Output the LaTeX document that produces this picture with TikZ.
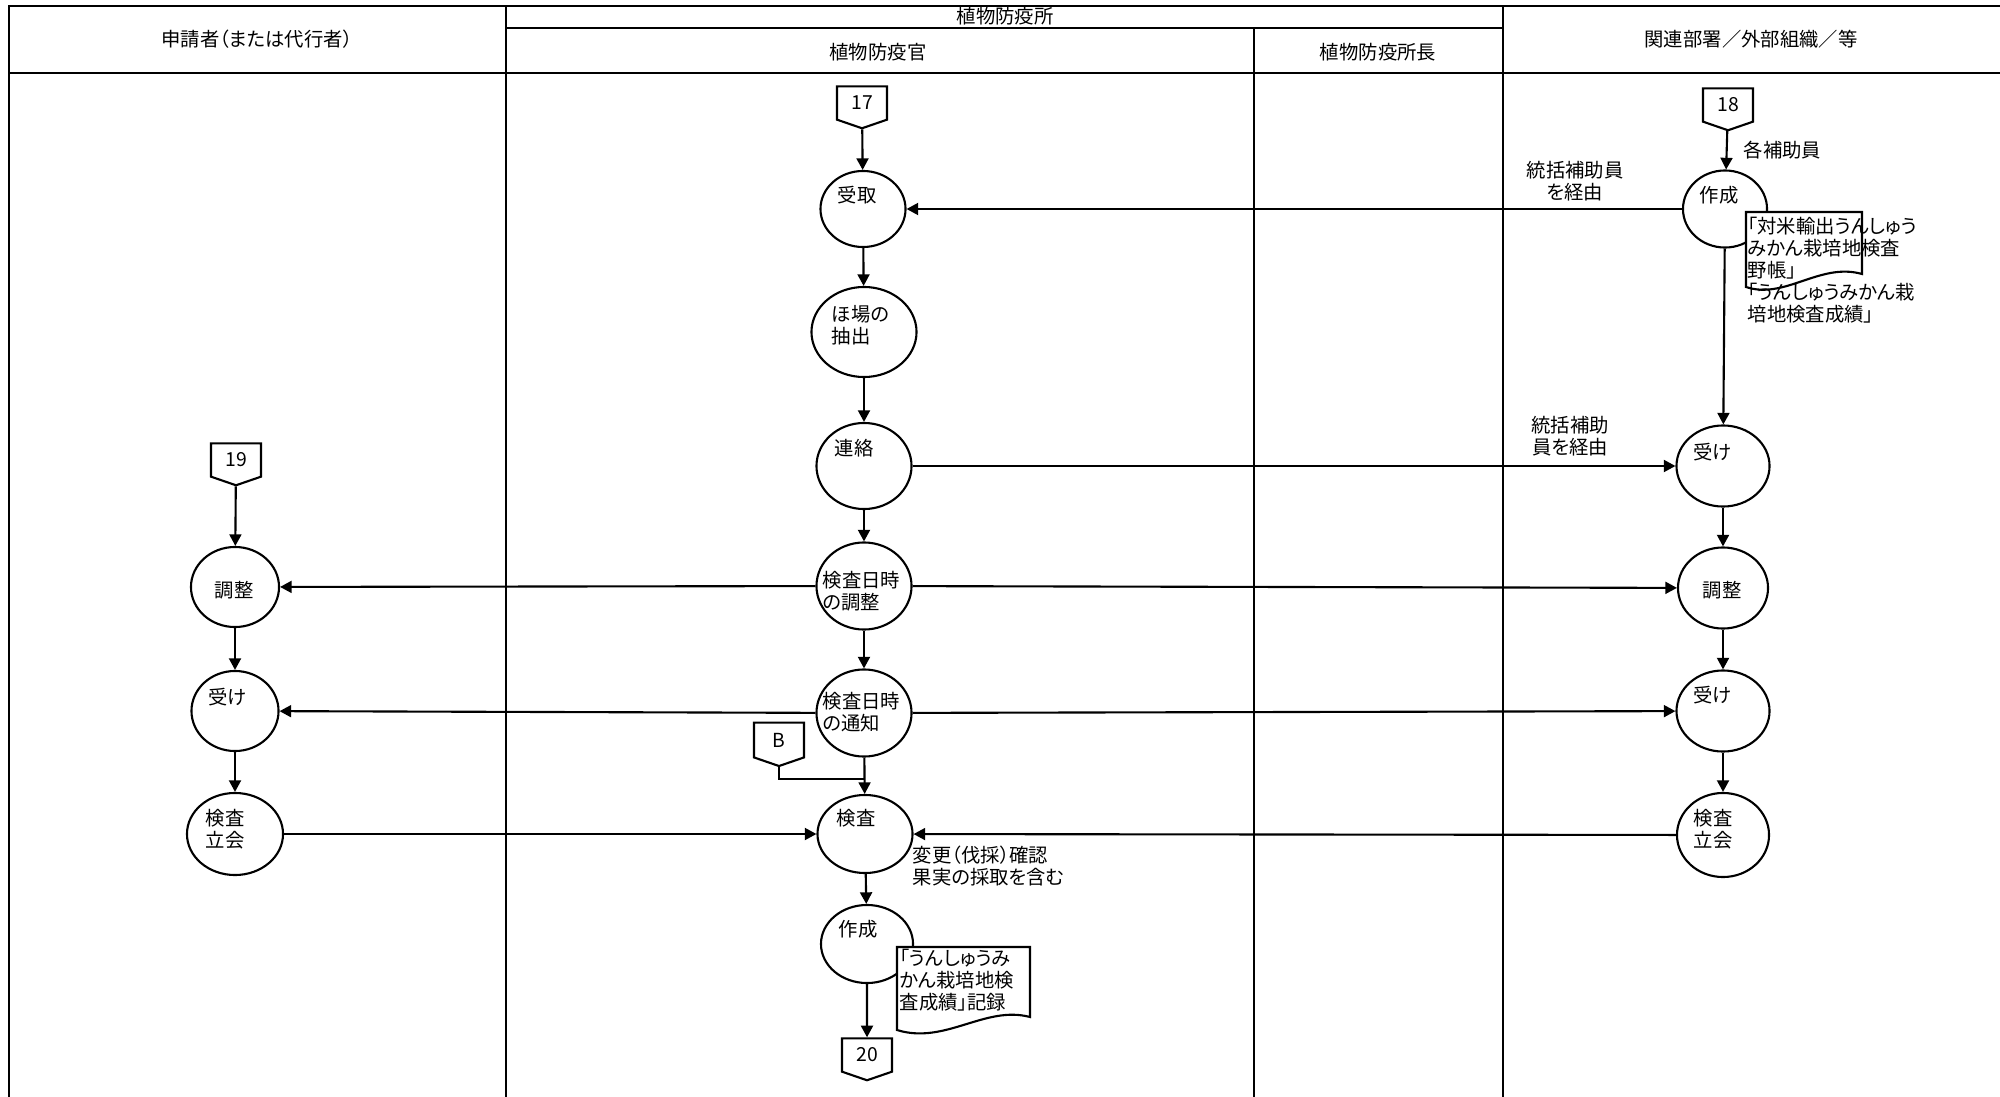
\documentclass[tikz,border=0pt]{standalone}
\usepackage{fontspec}
\setmainfont{Noto Sans CJK JP}[RawFeature={+palt}]
\usetikzlibrary{arrows.meta,shapes.geometric,shapes.symbols}

\begin{document}
\begin{tikzpicture}[
  x=0.01cm, y=-0.01cm,
  >={Triangle[length=3.3pt,width=3.4pt]},
  every node/.style={font=\fontsize{5.5}{6.3}\selectfont, inner sep=0pt},
  grid/.style={line width=0.65pt},
  proc/.style={draw, ellipse, line width=0.6pt, minimum width=0.92cm, minimum height=0.8cm},
  conn/.style={draw, signal, signal to=south, signal pointer angle=142, line width=0.6pt, minimum width=0.5cm, minimum height=0.37cm},
  flow/.style={->, line width=0.6pt},
  line/.style={line width=0.6pt},
  doc/.style={draw, fill=white, line width=0.6pt},
  lbl/.style={align=left, anchor=west}
]
  \useasboundingbox (0,0) rectangle (2000,1097);

  % swimlane frame, pixel coordinates of the sheet
  \draw[grid] (9,1097) -- (9,6) -- (2000,6);
  \draw[grid] (9,73) -- (2000,73);
  \draw[grid] (506,6) -- (506,1097);
  \draw[grid] (1503,6) -- (1503,1097);
  \draw[grid] (506,28) -- (1503,28);
  \draw[grid] (1254,28) -- (1254,1097);

  \node (h_app) at (257,39) {申請者（または代行者）};
  \node (h_pps) at (1005,16) {植物防疫所};
  \node (h_off) at (878,52) {植物防疫官};
  \node (h_dir) at (1378,52) {植物防疫所長};
  \node (h_ext) at (1751,39) {関連部署／外部組織／等};

  % off-page connectors
  \node[conn] (c17) at (862,103) {17};
  \node[conn] (c18) at (1728,105) {18};
  \node[conn] (c19) at (236,460) {19};
  \node[conn] (cB) at (779,740) {B};
  \node[conn] (c20) at (867,1055) {20};
  \coordinate (bjoin) at (865,779);

  % plant protection officer
  \node[proc, minimum width=0.85cm, minimum height=0.76cm] (uketori) at (863,209) {};
  \node[proc, minimum width=1.05cm, minimum height=0.9cm] (hojo) at (864,332) {};
  \node[proc, minimum width=0.95cm, minimum height=0.86cm] (renraku) at (864,466) {};
  \node[proc, minimum width=0.95cm, minimum height=0.87cm] (chosei_c) at (864,586) {};
  \node[proc, minimum width=0.95cm, minimum height=0.87cm] (tsuchi) at (864,713) {};
  \node[proc, minimum width=0.95cm, minimum height=0.78cm] (kensa) at (865,834) {};
  \node[proc, minimum width=0.92cm, minimum height=0.78cm] (sakusei_c) at (867,944) {};

  % applicant
  \node[proc, minimum width=0.88cm] (chosei_l) at (235,587) {};
  \node[proc, minimum width=0.87cm] (uke_l) at (235,711) {};
  \node[proc, minimum width=0.96cm, minimum height=0.82cm] (tachiai_l) at (235,834) {};

  % related sections
  \node[proc, minimum width=0.84cm, minimum height=0.77cm] (sakusei_r) at (1725,209) {};
  \node[proc, minimum width=0.93cm, minimum height=0.81cm] (uke_r1) at (1723,466) {};
  \node[proc, minimum width=0.9cm, minimum height=0.81cm] (chosei_r) at (1723,588) {};
  \node[proc, minimum width=0.93cm, minimum height=0.81cm] (uke_r2) at (1723,711) {};
  \node[proc, minimum width=0.92cm, minimum height=0.84cm] (tachiai_r) at (1723,835) {};

  \draw[flow] (c17) -- (uketori);
  \draw[flow] (uketori) -- (hojo);
  \draw[flow] (hojo) -- (renraku);
  \draw[flow] (renraku) -- (chosei_c);
  \draw[flow] (chosei_c) -- (tsuchi);
  \draw[flow] (tsuchi) -- (kensa);
  \draw[line] (cB.south) |- (bjoin);
  \draw[flow] (kensa) -- (sakusei_c);
  \draw[flow] (sakusei_c) -- (c20);

  \draw[flow] (c19) -- (chosei_l);
  \draw[flow] (chosei_l) -- (uke_l);
  \draw[flow] (uke_l) -- (tachiai_l);

  \draw[flow] (c18) -- (sakusei_r);
  \draw[flow] (sakusei_r) -- (uke_r1);
  \draw[flow] (uke_r1) -- (chosei_r);
  \draw[flow] (chosei_r) -- (uke_r2);
  \draw[flow] (uke_r2) -- (tachiai_r);

  \draw[flow] (sakusei_r) -- (uketori);
  \draw[flow] (renraku) -- (uke_r1);
  \draw[flow] (chosei_c) -- (chosei_l);
  \draw[flow] (chosei_c) -- (chosei_r);
  \draw[flow] (tsuchi) -- (uke_l);
  \draw[flow] (tsuchi) -- (uke_r2);
  \draw[flow] (tachiai_l) -- (kensa);
  \draw[flow] (tachiai_r) -- (kensa);

  % documents
  \draw[doc] (1746,212) -- (1746,287) .. controls (1785,300) and (1820,262) .. (1862,274) -- (1862,212) -- cycle;
  \draw[doc] (897,947) -- (897,1030) .. controls (945,1045) and (985,1005) .. (1030,1017) -- (1030,947) -- cycle;
  \node[lbl] (t_doc_r) at (1747,270) {「対米輸出うんしゅう\\みかん栽培地検査\\野帳」\\「うんしゅうみかん栽\\培地検査成績」};
  \node[lbl] (t_doc_c) at (899,980) {「うんしゅうみ\\かん栽培地検\\査成績」記録};

  % texts
  \node[lbl] (t_uketori) at (837,195) {受取};
  \node[lbl] (t_hojo) at (831,325) {ほ場の\\抽出};
  \node[lbl] (t_renraku) at (834,448) {連絡};
  \node[lbl] (t_chosei_c) at (822,591) {検査日時\\の調整};
  \node[lbl] (t_tsuchi) at (822,712) {検査日時\\の通知};
  \node[lbl] (t_kensa) at (836,818) {検査};
  \node[lbl] (t_sakusei_c) at (838,929) {作成};
  \node (t_chosei_l) at (234,590) {調整};
  \node[lbl] (t_uke_l) at (208,697) {受け};
  \node[lbl] (t_tachiai_l) at (205,829) {検査\\立会};
  \node[lbl] (t_sakusei_r) at (1699,195) {作成};
  \node[lbl] (t_uke_r1) at (1693,452) {受け};
  \node (t_chosei_r) at (1722,590) {調整};
  \node[lbl] (t_uke_r2) at (1693,695) {受け};
  \node[lbl] (t_tachiai_r) at (1693,829) {検査\\立会};

  \node[align=center] (l_tokatsu1) at (1575,181) {統括補助員\\を経由};
  \node[align=center] (l_tokatsu2) at (1570,436) {統括補助\\員を経由};
  \node[lbl] (l_kaku) at (1743,150) {各補助員};
  \node[lbl] (l_kensa) at (912,866) {変更（伐採）確認\\果実の採取を含む};
\end{tikzpicture}
\end{document}
